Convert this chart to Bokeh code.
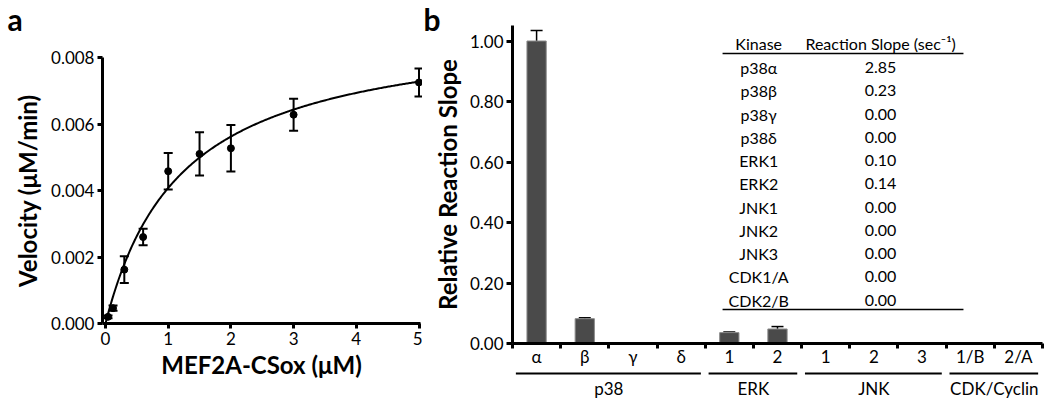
from bokeh.plotting import figure
from bokeh.layouts import row
from bokeh.models import (ColumnDataSource, Range1d, FixedTicker, NumeralTickFormatter,
                          Whisker, TeeHead, Label)
from bokeh.embed import file_html
from bokeh.resources import INLINE
from bokeh.core.properties import value
import numpy as np

FONT = "Lato"

# ---------------- Panel a data ----------------
conc = [0.04, 0.12, 0.3, 0.6, 1.0, 1.5, 2.0, 3.0, 5.0]
velocity = [0.00020, 0.00046, 0.00162, 0.00260, 0.00458, 0.00510, 0.00527, 0.00628, 0.00725]
velocity_err = [0.00004, 0.00008, 0.00040, 0.00025, 0.00055, 0.00065, 0.00070, 0.00048, 0.00042]
# Michaelis-Menten fit parameters
fit_vmax = 0.00905
fit_km = 1.22
a_xticks = [0, 1, 2, 3, 4, 5]
a_yticks = [0.0, 0.002, 0.004, 0.006, 0.008]

# ---------------- Panel b data ----------------
kinase_labels = ["α", "β", "γ", "δ", "1", "2", "1", "2", "3", "1/B", "2/A"]
kinase_groups = ["p38", "p38", "p38", "p38", "ERK", "ERK", "JNK", "JNK", "JNK",
                 "CDK/Cyclin", "CDK/Cyclin"]
relative_slope = [1.00, 0.082, 0.0, 0.0, 0.036, 0.048, 0.0, 0.0, 0.0, 0.0, 0.0]
relative_err = [0.035, 0.003, 0.0, 0.0, 0.002, 0.008, 0.0, 0.0, 0.0, 0.0, 0.0]
b_yticks = [0.0, 0.2, 0.4, 0.6, 0.8, 1.0]
table_kinase = ["p38α", "p38β", "p38γ", "p38δ", "ERK1", "ERK2", "JNK1", "JNK2", "JNK3",
                "CDK1/A", "CDK2/B"]
table_slope = ["2.85", "0.23", "0.00", "0.00", "0.10", "0.14", "0.00", "0.00", "0.00",
               "0.00", "0.00"]
table_header = ["Kinase", "Reaction Slope (sec⁻¹)"]

# ---------------- layout (pixels) ----------------
H = 402
WA = 422
WB = 626


def xr(width, px0, v0, scale):
    start = v0 - px0 / scale
    return Range1d(start, start + width / scale)


def yr(height, py0, v0, scale):
    return Range1d(v0 - (height - py0) / scale, v0 + py0 / scale)


def style_axis(ax, tick_out=5):
    ax.axis_line_width = 3
    ax.axis_line_color = "black"
    ax.major_tick_line_width = 3
    ax.major_tick_line_color = "black"
    ax.major_tick_in = 0
    ax.major_tick_out = tick_out
    ax.minor_tick_line_color = None
    ax.major_label_text_font = FONT
    ax.major_label_text_font_size = "17px"
    ax.major_label_text_color = "black"
    ax.axis_label_text_font = FONT
    ax.axis_label_text_font_style = "bold"
    ax.axis_label_text_font_size = "24px"
    ax.axis_label_text_color = "black"


# ================= Panel a =================
a_xscale = 62.7       # px per µM
a_yscale = 33250.0    # px per µM/min
pa = figure(width=WA, height=H,
            x_range=xr(WA, 105, 0.0, a_xscale), y_range=yr(H, 323, 0.0, a_yscale),
            output_backend="svg", toolbar_location=None, min_border=0)
pa.outline_line_color = None
pa.grid.visible = False
pa.background_fill_color = "white"
pa.border_fill_color = "white"

style_axis(pa.xaxis[0], 5)
style_axis(pa.yaxis[0], 5)
pa.xaxis.fixed_location = 0.0
pa.xaxis.bounds = (-0.048, 5.02)
pa.yaxis.fixed_location = -0.048
pa.yaxis.bounds = (0.0, 0.008)
pa.xaxis.ticker = FixedTicker(ticks=a_xticks)
pa.yaxis.ticker = FixedTicker(ticks=a_yticks)
pa.yaxis.formatter = NumeralTickFormatter(format="0.000")
pa.xaxis.axis_label = "MEF2A-CSox (μM)"
pa.yaxis.axis_label = "Velocity (μM/min)"
pa.xaxis.major_label_standoff = 3
pa.xaxis.axis_label_standoff = 2
pa.yaxis.major_label_standoff = 3
pa.yaxis.axis_label_standoff = 6

fit_x = np.linspace(0.0, 5.0, 300)
fit_y = fit_vmax * fit_x / (fit_km + fit_x)
pa.line(fit_x, fit_y, line_color="black", line_width=2)

src_a = ColumnDataSource(dict(
    x=conc, y=velocity,
    lo=[v - e for v, e in zip(velocity, velocity_err)],
    hi=[v + e for v, e in zip(velocity, velocity_err)],
))
pa.add_layout(Whisker(base="x", lower="lo", upper="hi", source=src_a,
                      line_color="black", line_width=2,
                      upper_head=TeeHead(size=9, line_width=2, line_color="black"),
                      lower_head=TeeHead(size=9, line_width=2, line_color="black")))
pa.scatter("x", "y", source=src_a, size=7, color="black")

pa.add_layout(Label(x=7, y=H - 18, x_units="screen", y_units="screen", text="a",
                    text_font=FONT, text_font_style="bold", text_font_size="30px",
                    text_align="left", text_baseline="alphabetic", text_color="black"))

# ================= Panel b =================
n = len(kinase_labels)
xpos = [i + 0.5 for i in range(n)]
b_xscale = 48.18
b_yscale = 302.5
B_LEFT = 512 - WA    # frame-x of the value axis inside panel b

pb = figure(width=WB, height=H,
            x_range=xr(WB, B_LEFT, 0.0, b_xscale), y_range=yr(H, 343, 0.0, b_yscale),
            output_backend="svg", toolbar_location=None, min_border=0)
pb.outline_line_color = None
pb.grid.visible = False
pb.background_fill_color = "white"
pb.border_fill_color = "white"

style_axis(pb.xaxis[0], 0)
style_axis(pb.yaxis[0], 6)
pb.xaxis.fixed_location = 0.0
pb.xaxis.bounds = (0, n)
pb.yaxis.fixed_location = 0.0
pb.yaxis.bounds = (0.0, 1.051)
pb.yaxis.ticker = FixedTicker(ticks=b_yticks)
pb.yaxis.formatter = NumeralTickFormatter(format="0.00")
pb.yaxis.axis_label = "Relative Reaction Slope"
pb.yaxis.major_label_standoff = 3
pb.yaxis.axis_label_standoff = 5

pb.xaxis.ticker = FixedTicker(ticks=xpos, minor_ticks=list(range(n + 1)))
pb.xaxis.major_label_overrides = {x: lab for x, lab in zip(xpos, kinase_labels)}
pb.xaxis.minor_tick_line_color = "black"
pb.xaxis.minor_tick_line_width = 3
pb.xaxis.minor_tick_in = 0
pb.xaxis.minor_tick_out = 5
pb.xaxis.major_label_standoff = -3

src_b = ColumnDataSource(dict(x=xpos, top=relative_slope))
pb.vbar(x="x", top="top", width=0.4, source=src_b,
        fill_color="#4a4a4a", line_color="#8c8c8c", line_width=1)

err_idx = [i for i in range(n) if relative_err[i] > 0]
src_be = ColumnDataSource(dict(
    x=[xpos[i] for i in err_idx],
    lo=[relative_slope[i] for i in err_idx],
    hi=[relative_slope[i] + relative_err[i] for i in err_idx],
))
pb.add_layout(Whisker(base="x", lower="lo", upper="hi", source=src_be,
                      line_color="black", line_width=1.5, lower_head=None,
                      upper_head=TeeHead(size=12, line_width=1.5, line_color="black")))

# inset table
tbl_name_x = 5.11
tbl_val_x = 7.64
row_y = [0.912 - 0.0769 * i for i in range(len(table_kinase))]
pb.text(x=[tbl_name_x, tbl_val_x], y=[0.992, 0.992], text=table_header,
        text_font=value(FONT), text_font_size="16px", text_align="center",
        text_baseline="middle", text_color="black")
pb.text(x=[tbl_name_x] * len(table_kinase), y=row_y, text=table_kinase,
        text_font=value(FONT), text_font_size="16px", text_align="center",
        text_baseline="middle", text_color="black")
pb.text(x=[tbl_val_x] * len(table_slope), y=row_y, text=table_slope,
        text_font=value(FONT), text_font_size="16px", text_align="center",
        text_baseline="middle", text_color="black")
pb.segment(x0=[4.36, 4.36], y0=[0.959, 0.112], x1=[9.36, 9.36], y1=[0.959, 0.112],
           line_color="black", line_width=1.5)

# group brackets below the category labels
groups = []
for i, g in enumerate(kinase_groups):
    if groups and groups[-1][0] == g:
        groups[-1][2] = i + 1
    else:
        groups.append([g, i, i + 1])
pb.segment(x0=[g[1] + 0.07 for g in groups], x1=[g[2] - 0.09 for g in groups],
           y0=[-0.099] * len(groups), y1=[-0.099] * len(groups),
           line_color="black", line_width=2)
pb.text(x=[(g[1] + g[2]) / 2 for g in groups], y=[-0.149] * len(groups),
        text=[g[0] for g in groups],
        text_font=value(FONT), text_font_size="17px", text_align="center",
        text_baseline="middle", text_color="black")

pb.add_layout(Label(x=1, y=H - 18, x_units="screen", y_units="screen", text="b",
                    text_font=FONT, text_font_style="bold", text_font_size="30px",
                    text_align="left", text_baseline="alphabetic", text_color="black"))

layout = row(pa, pb)
open("out.html", "w").write(file_html(layout, INLINE))
